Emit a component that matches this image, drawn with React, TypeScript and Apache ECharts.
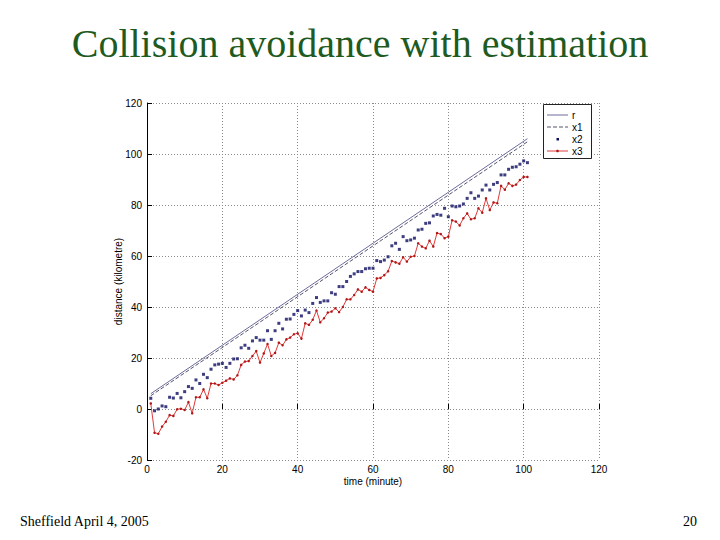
import React, { useEffect, useRef } from "react";
import * as echarts from "echarts";

const TITLE = "Collision avoidance with estimation";
const FOOTER_LEFT = "Sheffield April 4, 2005";
const FOOTER_RIGHT = "20";
const X_NAME = "time (minute)";
const Y_NAME = "distance (kilometre)";
const LEGEND_NAMES = ["r", "x1", "x2", "x3"];

const TIME: number[] = Array.from({ length: 101 }, (_, i) => i + 1);

// reference r and its estimate x1 (straight lines: end points)
const R_POINTS: number[][] = [[1, 6], [101, 106]];
const X1_POINTS: number[][] = [[1, 5.2], [101, 104.8]];

const X2_VALUES: number[] = [
  4.2, -0.7, 0, 1.2, 0.9, 4.6, 4.3, 6.1, 4.4, 6.8,
  8.8, 8.1, 11.4, 10, 13.6, 12.3, 15.6, 17.3, 17.6, 17.9,
  16.3, 17.9, 19.6, 19.7, 24, 25, 23.8, 26.7, 28, 27,
  27, 30.7, 27.3, 30.7, 33.6, 31.4, 35.2, 35.3, 37.1, 38.6,
  36.5, 38.8, 37.8, 41.4, 43.7, 41.8, 42.4, 42.4, 45.6, 45,
  48, 48, 50, 52, 53, 53.9, 53.9, 55, 55.2, 55.2,
  58.2, 57.8, 58.4, 59.7, 64, 65, 62.6, 67.6, 66, 66.3,
  67, 70.2, 70.5, 72.8, 73, 75.7, 76.3, 76, 78.7, 75.4,
  79.6, 79.3, 79.6, 80.4, 82.6, 84.8, 82.6, 83.5, 85.9, 87.8,
  85.9, 88.1, 88.8, 91.8, 91.8, 94, 94.8, 95, 96, 97.3,
  96.6,
];

const X3_VALUES: number[] = [
  2.2, -9.3, -9.7, -6.9, -5, -2.4, -2.7, -0.1, 0.1, -0.4,
  2.7, -1.7, 4.6, 4.6, 7.7, 4.2, 10, 10, 9.4, 10.3,
  11.1, 12, 11.6, 13.2, 17.3, 18.6, 18.8, 20.8, 22.7, 18.2,
  21.8, 25.5, 20.8, 22, 26, 25, 27.3, 28, 29.3, 29.7,
  27.6, 33.6, 33, 35, 38.6, 34, 35.6, 37.8, 38.2, 39.5,
  38, 40, 43, 43, 44.7, 46.9, 46, 47.7, 46.7, 46,
  51.2, 51.4, 52.5, 54, 58, 57.5, 57, 59.5, 57.8, 59.7,
  60, 65, 63.7, 63, 66, 63.7, 69, 68.6, 67, 67.6,
  74, 73.5, 72, 74.8, 76.7, 74.4, 74.8, 78.7, 77, 82.6,
  78, 81, 80.7, 87.5, 86, 88.5, 87.5, 88, 89.8, 91,
  91,
];

const X_TICKS = { min: 0, max: 120, interval: 20 };
const Y_TICKS = { min: -20, max: 120, interval: 20 };

const R_COLOR = "#6c6c9c";
const X1_COLOR = "#55556e";
const X2_COLOR = "#0c0c60";
const X3_LINE = "#e03a3a";
const X3_DOT = "#b01818";

export default function App() {
  const ref = useRef<HTMLDivElement>(null);

  useEffect(() => {
    if (!ref.current) return;
    const chart = echarts.init(ref.current, undefined, { renderer: "svg" });

    const x2Data = TIME.map((t, i) => [t, X2_VALUES[i]]);
    const x3Data = TIME.map((t, i) => [t, X3_VALUES[i]]);

    const sans = "Liberation Sans";
    const axisCommon = {
      type: "value" as const,
      nameLocation: "middle" as const,
      nameMoveOverlap: false,
      nameTextStyle: { fontFamily: sans, fontSize: 10, color: "#000" },
      axisTick: { show: true, inside: true, length: 5, lineStyle: { color: "#000", width: 1 } },
      axisLabel: { fontFamily: sans, fontSize: 10, color: "#000" },
      splitLine: { show: true, lineStyle: { type: [1, 2], color: "#8a8a8a", width: 1 } },
    };

    // hand-drawn MATLAB-style legend box
    const lgX = 543, lgY = 104, lgW = 48, lgH = 54;
    const rowY = [115, 127, 139, 151];
    const iconX0 = 547, iconX1 = 568, textX = 572;
    const legendEls: any[] = [
      {
        type: "rect",
        shape: { x: lgX + 0.5, y: lgY + 0.5, width: lgW, height: lgH },
        style: { fill: "#fff", stroke: "#222", lineWidth: 1 },
        z: 100,
      },
      {
        type: "line",
        shape: { x1: iconX0, y1: rowY[0], x2: iconX1, y2: rowY[0] },
        style: { stroke: R_COLOR, lineWidth: 1 },
        z: 101,
      },
      {
        type: "line",
        shape: { x1: iconX0, y1: rowY[1], x2: iconX1, y2: rowY[1] },
        style: { stroke: X1_COLOR, lineWidth: 1, lineDash: [4, 2] },
        z: 101,
      },
      {
        type: "rect",
        shape: { x: (iconX0 + iconX1) / 2 - 1, y: rowY[2] - 1, width: 2.5, height: 2.5 },
        style: { fill: X2_COLOR },
        z: 101,
      },
      {
        type: "line",
        shape: { x1: iconX0, y1: rowY[3], x2: iconX1, y2: rowY[3] },
        style: { stroke: X3_LINE, lineWidth: 1 },
        z: 101,
      },
      {
        type: "circle",
        shape: { cx: (iconX0 + iconX1) / 2, cy: rowY[3], r: 1.3 },
        style: { fill: X3_DOT },
        z: 102,
      },
      ...LEGEND_NAMES.map((n, i) => ({
        type: "text",
        x: textX,
        y: rowY[i],
        style: {
          text: n,
          font: `10px "${sans}"`,
          fill: "#000",
          textVerticalAlign: "middle",
          verticalAlign: "middle",
        },
        z: 101,
      })),
    ];

    chart.setOption({
      animation: false,
      backgroundColor: "#ffffff",
      title: {
        text: TITLE,
        left: "center",
        top: 18,
        textStyle: {
          fontFamily: "Liberation Serif",
          fontSize: 40,
          fontWeight: "normal",
          color: "#1f5a1f",
        },
      },
      graphic: [
        {
          type: "text",
          left: 20,
          top: 514,
          style: { text: FOOTER_LEFT, font: '14px "Liberation Serif"', fill: "#000" },
        },
        {
          type: "text",
          right: 23,
          top: 514,
          style: { text: FOOTER_RIGHT, font: '14px "Liberation Serif"', fill: "#000" },
        },
        ...legendEls,
      ],
      grid: { left: 147, top: 103, right: 121, bottom: 80, containLabel: false },
      xAxis: {
        ...axisCommon,
        ...X_TICKS,
        name: X_NAME,
        nameGap: 16,
        axisLine: { show: false },
        axisLabel: { ...axisCommon.axisLabel, margin: 4 },
      },
      yAxis: {
        ...axisCommon,
        ...Y_TICKS,
        name: Y_NAME,
        nameGap: 24,
        axisLine: { show: true, lineStyle: { color: "#000", width: 1 } },
        axisLabel: { ...axisCommon.axisLabel, margin: 5 },
      },
      series: [
        {
          name: "r",
          type: "line",
          data: R_POINTS,
          symbol: "none",
          lineStyle: { color: R_COLOR, width: 1 },
          itemStyle: { color: R_COLOR },
        },
        {
          name: "x1",
          type: "line",
          data: X1_POINTS,
          symbol: "none",
          lineStyle: { color: X1_COLOR, width: 1, type: [4, 2] },
          itemStyle: { color: X1_COLOR },
        },
        {
          name: "x2",
          type: "scatter",
          data: x2Data,
          symbol: "rect",
          symbolSize: 3,
          itemStyle: { color: X2_COLOR },
        },
        {
          name: "x3",
          type: "line",
          data: x3Data,
          symbol: "circle",
          symbolSize: 2.5,
          showSymbol: true,
          lineStyle: { color: X3_LINE, width: 1 },
          itemStyle: { color: X3_DOT },
        },
      ],
    });

    return () => chart.dispose();
  }, []);

  return (
    <div
      ref={ref}
      style={{ position: "fixed", left: 0, top: 0, width: 720, height: 540, background: "#fff" }}
    />
  );
}
